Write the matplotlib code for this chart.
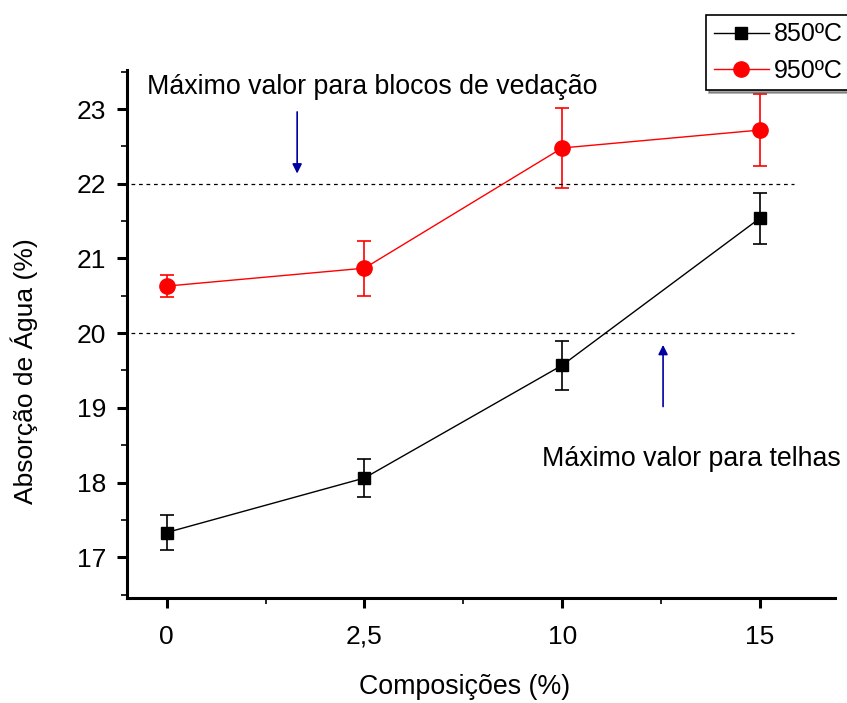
import matplotlib.pyplot as plt
from matplotlib.lines import Line2D
from matplotlib.ticker import MultipleLocator, FixedLocator

plt.rcParams['font.family'] = ['Liberation Sans', 'DejaVu Sans']

# composições (%) e absorção de água (%)
composicoes = ['0', '2,5', '10', '15']
abs_850 = [17.33, 18.06, 19.57, 21.54]
err_850 = [0.24, 0.26, 0.33, 0.34]
abs_950 = [20.63, 20.87, 22.48, 22.72]
err_950 = [0.15, 0.37, 0.54, 0.48]
lim_blocos = 22.0
lim_telhas = 20.0

x = list(range(len(composicoes)))

fig = plt.figure(figsize=(8.47, 7.03), dpi=100)
ax = fig.add_axes([0.150, 0.149, 0.836, 0.751])

ax.errorbar(x, abs_850, yerr=err_850, color='black', marker='s', ms=9,
            lw=1, elinewidth=1.2, capsize=5, capthick=1.2)
ax.errorbar(x, abs_950, yerr=err_950, color='red', marker='o', ms=11,
            lw=1, elinewidth=1.2, capsize=5, capthick=1.2)

ax.plot([-0.18, 3.17], [lim_blocos, lim_blocos], ls=(0, (3, 3)), color='black', lw=0.9)
ax.plot([-0.18, 3.17], [lim_telhas, lim_telhas], ls=(0, (3, 3)), color='black', lw=0.9)

# setas dos limites
ax.annotate('', xy=(0.66, lim_blocos + 0.1), xytext=(0.66, 23.0),
            arrowprops=dict(arrowstyle='-|>', color='#0000a0', lw=1.2, mutation_scale=14))
ax.annotate('', xy=(2.51, lim_telhas - 0.12), xytext=(2.51, 18.98),
            arrowprops=dict(arrowstyle='-|>', color='#0000a0', lw=1.2, mutation_scale=14))

ax.text(-0.1, 23.3, 'Máximo valor para blocos de vedação', fontsize=19.3, va='center', ha='left')
ax.text(1.9, 18.32, 'Máximo valor para telhas', fontsize=19.3, va='center', ha='left')

ax.set_xlim(-0.2, 3.38)
ax.set_ylim(16.45, 23.52)
ax.set_xticks(x)
ax.set_xticklabels(composicoes)
ax.xaxis.set_minor_locator(FixedLocator([0.5, 1.5, 2.5]))
ax.yaxis.set_major_locator(MultipleLocator(1))
ax.yaxis.set_minor_locator(MultipleLocator(0.5))

for side in ['top', 'right']:
    ax.spines[side].set_visible(False)
for side in ['left', 'bottom']:
    ax.spines[side].set_linewidth(2.2)
ax.tick_params(which='major', direction='out', length=7, width=2.2, labelsize=19, pad=8)
ax.tick_params(which='minor', direction='out', length=4, width=1.2)
ax.tick_params(axis='x', pad=12)

ax.set_xlabel('Composições (%)', fontsize=19.3)
ax.set_ylabel('Absorção de Água (%)', fontsize=19)
ax.xaxis.set_label_coords(0.477, -0.143)
ax.yaxis.set_label_coords(-0.126, 0.43)

handles = [
    Line2D([], [], color='black', marker='s', ms=9, lw=1),
    Line2D([], [], color='red', marker='o', ms=11, lw=1),
]
leg = fig.legend(handles, ['850ºC', '950ºC'], loc='upper left',
                 bbox_to_anchor=(0.834, 0.979), fontsize=18,
                 frameon=True, fancybox=False, shadow=True, handlelength=2.2,
                 handletextpad=0.2, borderpad=0.3, labelspacing=0.5,
                 borderaxespad=0)
leg.get_frame().set_edgecolor('black')
leg.get_frame().set_linewidth(1.2)

fig.savefig('out.png', dpi=100)
